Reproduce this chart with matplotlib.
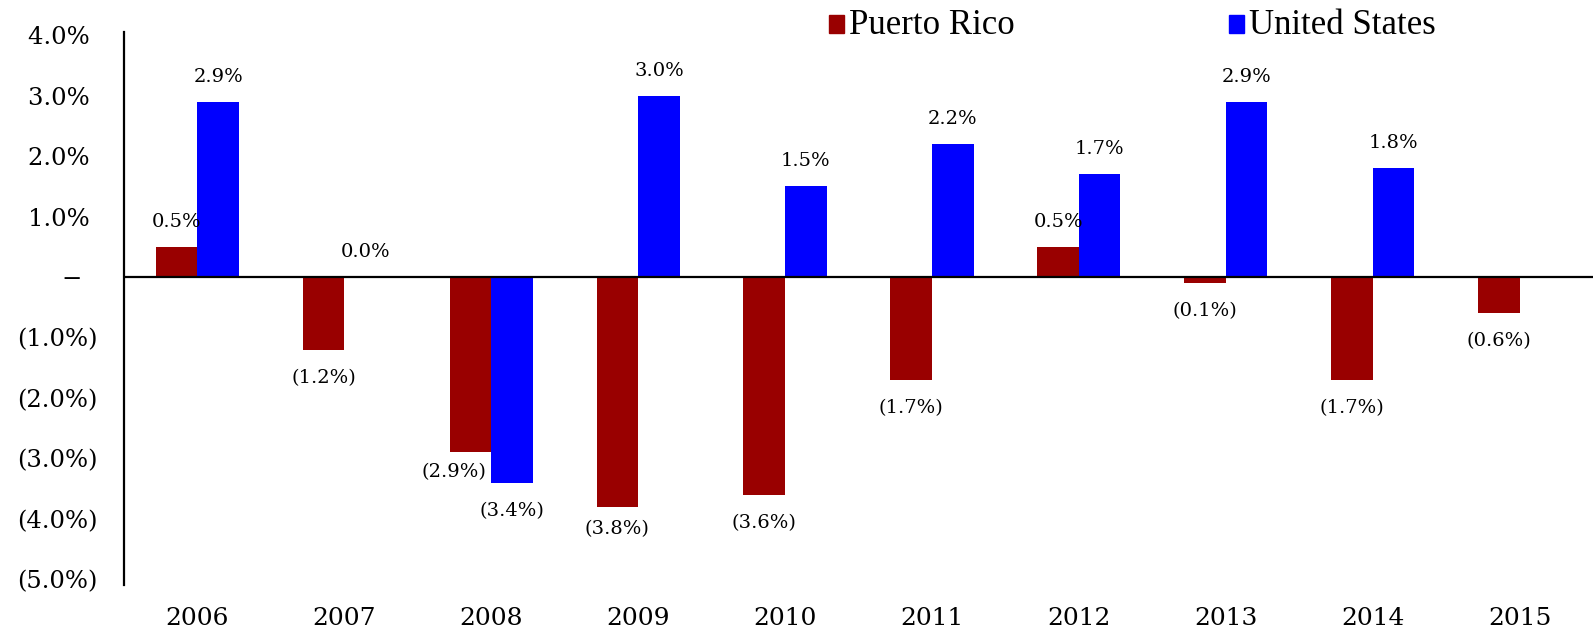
import numpy as np
import matplotlib.pyplot as plt
from matplotlib.patches import Rectangle

years = ['2006', '2007', '2008', '2009', '2010', '2011', '2012', '2013', '2014', '2015']
puerto_rico = [0.5, -1.2, -2.9, -3.8, -3.6, -1.7, 0.5, -0.1, -1.7, -0.6]
united_states = [2.9, 0.0, -3.4, 3.0, 1.5, 2.2, 1.7, 2.9, 1.8, np.nan]
y_ticks = [4, 3, 2, 1, 0, -1, -2, -3, -4, -5]

pr_color = '#990000'
us_color = '#0000ff'
num_font = 'DejaVu Serif'


def pct(v):
    if v < 0:
        return f'({abs(v):.1f}%)'
    return f'{v:.1f}%'


def tick_fmt(v):
    if v == 0:
        return '−  '
    if v < 0:
        return f'({abs(v):.1f}%)'
    return f'{v:.1f}% '


fig = plt.figure(figsize=(15.93, 6.35), dpi=100)
ax = fig.add_axes([124 / 1593, 1 - 585 / 635, 1469 / 1593, 553 / 635])

x = np.arange(len(years))
w = 0.283
ax.bar(x - w / 2, puerto_rico, w, color=pr_color, linewidth=0)
ax.bar(x + w / 2, united_states, w, color=us_color, linewidth=0)

ax.axhline(0, color='black', lw=1.6, zorder=3)

# data labels, px offsets converted to points (dpi 100)
nudge = {('pr', 2): (-17, 8), ('pr', 3): (0, 6)}
for key, vals, dx in [('pr', puerto_rico, -w / 2), ('us', united_states, w / 2)]:
    for i, v in enumerate(vals):
        if np.isnan(v):
            continue
        oy = 25 if v >= 0 else -28
        ox = 0
        if (key, i) in nudge:
            ox += nudge[(key, i)][0]
            oy += nudge[(key, i)][1]
        ax.annotate(pct(v), (x[i] + dx, v), xytext=(ox * 0.72, oy * 0.72),
                    textcoords='offset points', ha='center', va='center',
                    fontsize=14, family=num_font)

ax.set_xlim(-0.5, 9.5)
ax.set_ylim(-5.09, 4.05)
ax.set_xticks(x)
ax.set_xticklabels(years, family=num_font, fontsize=18)
ax.set_yticks(y_ticks)
ax.set_yticklabels([tick_fmt(v) for v in y_ticks], family=num_font, fontsize=17.5)
ax.tick_params(axis='x', length=0, pad=16)
ax.tick_params(axis='y', length=0, pad=19)

for s in ['top', 'right', 'bottom']:
    ax.spines[s].set_visible(False)
ax.spines['left'].set_linewidth(1.6)

# legend drawn at the top
for px, name, col in [(829, 'Puerto Rico', pr_color), (1229, 'United States', us_color)]:
    fig.add_artist(Rectangle((px / 1593, 1 - 33 / 635), 15 / 1593, 18 / 635,
                             color=col, transform=fig.transFigure))
    fig.text((px + 20) / 1593, 1 - 26 / 635, name, va='center', ha='left',
             family='Liberation Serif', fontsize=25)

fig.savefig('out.png', dpi=100)
